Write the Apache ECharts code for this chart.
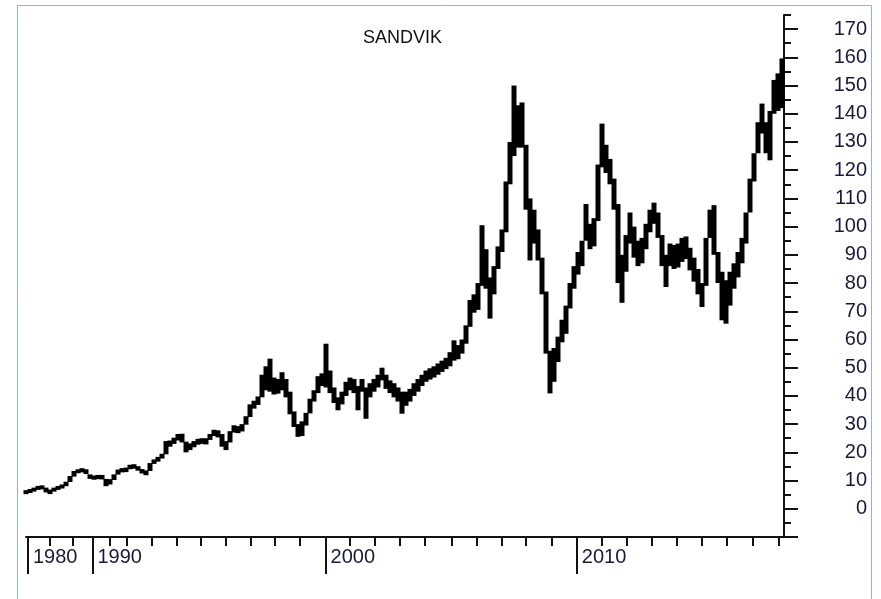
<!DOCTYPE html>
<html>
<head>
<meta charset="utf-8">
<title>SANDVIK</title>
<script src="https://cdn.jsdelivr.net/npm/echarts@6/dist/echarts.min.js"></script>
<style>
  html, body { margin: 0; padding: 0; background: #fff; }
  #chart { width: 881px; height: 599px; }
</style>
</head>
<body>
<div id="chart"></div>
<script>
// bar lows / highs, one bar per slot (slot index = x position)
const lows = [
  5.2, 5.6, 6.1, 6.7, 6.9, 5.8, 5.2, 6.1, 6.7, 7.2,
  8.0, 9.5, 11.4, 12.6, 12.9, 12.3, 10.6, 10.3, 10.5, 10.4,
  8.0, 8.6, 10.2, 12.1, 12.9, 13.0, 14.0, 14.2, 13.5, 12.5,
  11.9, 13.4, 15.9, 16.7, 17.8, 19.3, 22.0, 23.0, 24.2, 23.5,
  20.0, 20.8, 21.8, 22.7, 23.0, 22.8, 24.4, 25.8, 25.3, 22.0,
  20.8, 23.5, 27.0, 26.8, 27.4, 29.8, 32.5, 35.5, 36.8, 39.5,
  42.0, 41.5, 40.5, 40.8, 42.0, 39.5, 33.5, 29.0, 25.5, 25.8,
  29.5, 33.8, 38.0, 41.0, 43.5, 43.0, 41.0, 37.5, 34.9, 37.0,
  40.0, 42.0, 41.0, 34.9, 41.5, 31.9, 39.5, 41.5, 43.0, 45.5,
  42.5, 41.0, 39.5, 38.0, 33.7, 36.5, 38.0, 40.0, 41.5, 43.5,
  45.0, 45.8, 46.5, 47.5, 48.5, 49.5, 50.5, 52.5, 53.0, 55.0,
  58.5, 64.5, 69.5, 70.5, 79.0, 78.0, 67.4, 76.0, 85.0, 91.0,
  98.0, 115.0, 125.0, 128.0, 128.0, 106.0, 88.0, 94.0, 88.0, 76.0,
  55.0, 40.9, 45.0, 52.0, 59.0, 62.0, 71.0, 78.0, 83.0, 86.0,
  95.0, 92.0, 93.0, 102.0, 121.0, 119.0, 115.0, 106.0, 80.0, 73.0,
  84.0, 94.0, 89.0, 86.0, 87.0, 92.0, 98.0, 101.0, 96.0, 86.0,
  78.6, 86.0, 85.0, 85.5, 87.5, 88.5, 84.5, 80.5, 76.0, 71.5,
  79.0, 96.0, 90.0, 80.0, 66.8, 65.6, 72.0, 78.0, 82.0, 87.0,
  94.0, 105.0, 116.0, 126.0, 133.0, 126.0, 123.5, 140.0, 141.0, 142.0
];
const highs = [
  6.6, 7.0, 7.5, 8.1, 8.3, 7.5, 6.8, 7.5, 8.1, 8.6,
  9.6, 11.6, 13.4, 14.0, 14.4, 14.0, 12.2, 11.8, 12.0, 12.0,
  10.6, 10.5, 12.2, 13.9, 14.4, 14.6, 15.6, 15.8, 15.1, 14.1,
  13.6, 16.2, 17.5, 18.4, 19.5, 24.0, 24.2, 25.2, 26.5, 26.6,
  23.8, 23.2, 24.0, 24.8, 25.0, 25.0, 26.5, 28.0, 27.8, 26.5,
  24.0, 27.5, 29.6, 29.3, 30.0, 32.8, 37.0, 38.3, 39.8, 47.5,
  50.5, 53.2, 46.5, 46.0, 48.4, 46.0, 41.5, 34.5, 30.0, 31.0,
  34.0, 39.0, 42.0, 47.0, 48.0, 58.5, 49.0, 43.0, 39.5, 41.5,
  45.0, 46.5, 46.0, 43.5, 46.0, 43.0, 44.5, 46.0, 47.5, 50.0,
  47.5, 45.5, 44.5, 43.0, 41.5, 41.5, 42.5, 44.5, 46.0, 47.5,
  49.0, 49.8, 50.5, 51.5, 52.5, 53.5, 55.5, 59.7, 58.0, 60.0,
  65.0, 74.0, 76.0, 80.0, 100.5, 92.0, 82.0, 86.0, 93.0, 99.0,
  116.0, 130.0, 150.0, 143.0, 144.0, 129.0, 110.0, 106.0, 99.0, 89.0,
  77.0, 56.0, 57.0, 61.0, 67.0, 72.0, 80.0, 86.0, 91.0, 95.0,
  108.0, 101.0, 103.0, 122.0, 136.5, 129.0, 124.0, 117.0, 108.0, 90.0,
  97.0, 105.0, 100.0, 95.0, 96.0, 101.0, 106.0, 108.5, 105.0, 97.0,
  90.0, 94.0, 93.5, 94.0, 96.0, 96.5, 92.5, 89.0, 85.0, 80.0,
  96.0, 106.0, 107.6, 91.0, 84.0, 81.0, 84.0, 87.0, 91.0, 96.0,
  105.0, 117.0, 126.0, 137.0, 143.6, 137.0, 141.0, 152.0, 154.3, 159.6
];

// x axis: slot index where each year / decade starts
const yearTicks = [
  6.0, 11.6, 16.6, 21.0, 25.2, 31.4, 37.7, 43.7, 49.9, 56.2, 62.3, 68.5,
  74.9, 81.0, 87.3, 93.5, 99.8, 106.4, 112.7, 118.9, 125.0, 131.4,
  137.7, 143.9, 150.2, 156.4, 162.7, 168.9, 175.2, 181.6, 188.3
];
const decadeTicks = [0.5, 16.6, 74.9, 137.7];
const decadeLabels = ['1980', '1990', '2000', '2010'];

// y axis
const yMajor = [-10, 0, 10, 20, 30, 40, 50, 60, 70, 80, 90, 100, 110, 120, 130, 140, 150, 160, 170];
const yLabels = [0, 10, 20, 30, 40, 50, 60, 70, 80, 90, 100, 110, 120, 130, 140, 150, 160, 170];

const font = '"Liberation Sans", Arial, sans-serif';
const ink = '#111';

const chart = echarts.init(document.getElementById('chart'), null, { renderer: 'canvas' });

const bars = lows.map((lo, i) => [i, lo, highs[i]]);

const xBase = {
  type: 'value', min: 0, max: 189.5,
  splitLine: { show: false }, position: 'bottom'
};
const yBase = {
  type: 'value', min: -10, max: 175, position: 'right',
  splitLine: { show: false }
};

chart.setOption({
  animation: false,
  backgroundColor: '#fff',
  title: {
    text: 'SANDVIK',
    left: 358, top: 24,
    textStyle: { fontFamily: font, fontSize: 18, fontWeight: 'normal', color: ink }
  },
  graphic: [{
    type: 'rect',
    shape: { x: 17.5, y: 5.5, width: 854, height: 620 },
    style: { fill: null, stroke: '#8fb3dc', lineWidth: 1 },
    silent: true
  }],
  grid: { left: 26, top: 15, width: 758, height: 522 },
  xAxis: [
    Object.assign({}, xBase, {
      axisLine: { show: true, onZero: false, lineStyle: { color: ink, width: 2 } },
      axisTick: { show: true, customValues: yearTicks, length: 9, lineStyle: { color: ink, width: 2 } },
      axisLabel: { show: false }
    }),
    Object.assign({}, xBase, {
      axisLine: { show: false, onZero: false },
      axisTick: { show: true, customValues: decadeTicks, length: 37, lineStyle: { color: ink, width: 2 } },
      axisLabel: {
        show: true, customValues: decadeTicks, align: 'left', margin: 10,
        padding: [0, 0, 0, 5],
        fontFamily: font, fontSize: 20, color: '#1a1a38',
        formatter: (v) => decadeLabels[decadeTicks.indexOf(v)] || ''
      }
    })
  ],
  yAxis: [
    Object.assign({}, yBase, {
      interval: 5,
      axisLine: { show: true, onZero: false, lineStyle: { color: ink, width: 2 } },
      axisTick: { show: true, length: 7, lineStyle: { color: ink, width: 2 } },
      axisLabel: { show: false }
    }),
    Object.assign({}, yBase, {
      axisLine: { show: false, onZero: false },
      axisTick: { show: true, customValues: yMajor, length: 14, lineStyle: { color: ink, width: 2 } },
      axisLabel: {
        show: true, customValues: yLabels, align: 'right', margin: 83,
        padding: [4, 0, 0, 0],
        fontFamily: font, fontSize: 20, color: '#1a1a38'
      }
    })
  ],
  series: [{
    type: 'custom',
    xAxisIndex: 0, yAxisIndex: 0,
    data: bars,
    renderItem: (params, api) => {
      const top = api.coord([api.value(0), api.value(2)]);
      const bottom = api.coord([api.value(0), api.value(1)]);
      return {
        type: 'rect',
        shape: { x: top[0] - 2.5, y: top[1], width: 5, height: Math.max(bottom[1] - top[1], 4) },
        style: { fill: '#000' }
      };
    }
  }]
});
</script>
</body>
</html>
